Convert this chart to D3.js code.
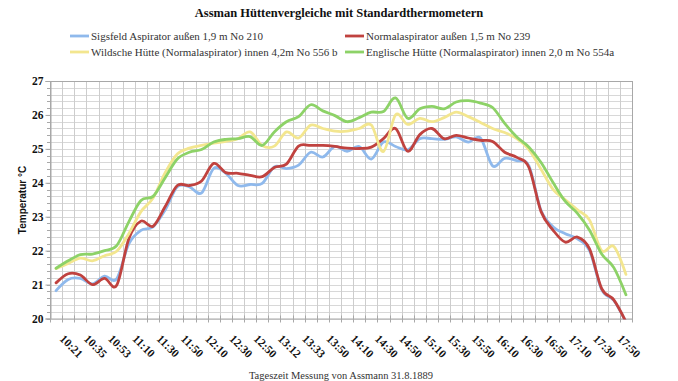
<!DOCTYPE html>
<html><head><meta charset="utf-8">
<script src="https://cdn.jsdelivr.net/npm/d3@7"></script>
<style>
html,body{margin:0;padding:0;background:#fff;}
svg{display:block;}
</style></head>
<body><svg id="chart" width="678" height="381"></svg>
<script>
const title = "Assman Hüttenvergleiche mit Standardthermometern";
const xTitle = "Tageszeit Messung von Assmann 31.8.1889";
const yTitle = "Temperatur °C";
// labelled times (every second measurement)
const timeLabels = ["10:21","10:35","10:53","11:10","11:30","11:50","12:10","12:30","12:50","13:12","13:33","13:50","14:10","14:30","14:50","15:10","15:30","15:50","16:10","16:30","16:50","17:10","17:30","17:50"];
const seriesNames = ["Sigsfeld Aspirator außen 1,9 m No 210","Normalaspirator außen 1,5 m No 239","Wildsche Hütte (Normalaspirator) innen 4,2m No 556 b","Englische Hütte (Normalaspirator) innen 2,0 m No 554a"];
const sigsfeld = [20.82,21.15,21.18,21.02,21.25,21.17,22.2,22.6,22.7,23.2,23.88,23.88,23.7,24.42,24.28,23.92,23.95,23.98,24.47,24.42,24.52,24.9,24.76,25.07,24.93,25.07,24.7,25.2,25.07,24.97,25.3,25.3,25.28,25.35,25.2,25.32,24.5,24.72,24.65,24.5,23.18,22.7,22.5,22.35,22.0,20.85,20.53,19.9];
const normal = [21.05,21.32,21.28,21.0,21.18,20.98,22.35,22.87,22.72,23.3,23.92,23.92,24.05,24.57,24.3,24.28,24.22,24.18,24.45,24.55,25.08,25.1,25.1,25.07,25.02,25.01,25.05,25.3,25.6,24.93,25.42,25.6,25.3,25.4,25.32,25.25,25.22,24.9,24.75,24.45,23.15,22.6,22.25,22.4,22.05,20.88,20.55,19.9];
const wildsche = [21.47,21.62,21.78,21.7,21.85,21.98,22.5,23.15,23.55,24.3,24.85,25.02,25.1,25.17,25.22,25.3,25.5,25.1,25.08,25.5,25.32,25.7,25.6,25.52,25.52,25.6,25.7,24.92,26.0,25.72,25.9,25.8,25.92,26.08,25.95,25.78,25.6,25.48,25.3,24.98,24.4,23.8,23.5,23.2,22.9,22.0,22.12,21.3];
const englische = [21.48,21.7,21.88,21.9,22.0,22.15,22.85,23.48,23.6,24.15,24.7,24.9,24.98,25.2,25.28,25.3,25.36,25.1,25.5,25.8,25.95,26.3,26.12,25.98,25.8,25.92,26.08,26.1,26.5,25.9,26.18,26.25,26.18,26.38,26.42,26.35,26.22,25.75,25.35,25.05,24.6,24.0,23.45,23.1,22.6,21.9,21.5,20.7];
const yTicks = [20,21,22,23,24,25,26,27];
const colors = ["#8fb9ec","#c0423f","#f3e68f","#8dd267"];

const seriesValues = [sigsfeld, normal, wildsche, englische];
const nPts = sigsfeld.length;
const cats = d3.range(nPts);
const labelOf = i => (i % 2 === 0 ? timeLabels[i/2] : null);

const svg = d3.select("#chart");
const m = {l:50, r:632, t:81, b:318.5};

const x = d3.scaleBand().domain(cats).range([m.l, m.r]).padding(0);
const y = d3.scaleLinear().domain([20,27]).range([m.b, m.t]);
const serif = "'Liberation Serif','Times New Roman',serif";
const sans = "'Liberation Sans',Arial,sans-serif";

// grid
const grid = svg.append("g");
const minor = d3.range(20, 27.001, 0.2);
grid.selectAll("line.h").data(minor).join("line")
  .attr("x1", m.l).attr("x2", m.r)
  .attr("y1", d => Math.round(y(d))+0.5).attr("y2", d => Math.round(y(d))+0.5)
  .attr("stroke", "#d8d8d8").attr("stroke-width", 1);
grid.selectAll("line.v").data(cats.concat([nPts])).join("line")
  .attr("x1", d => Math.round(d < nPts ? x(d) : m.r)+0.5)
  .attr("x2", d => Math.round(d < nPts ? x(d) : m.r)+0.5)
  .attr("y1", m.t).attr("y2", m.b)
  .attr("stroke", "#cdcdcd").attr("stroke-width", 1);
svg.append("rect").attr("x", m.l+0.5).attr("y", Math.round(m.t)+0.5)
  .attr("width", m.r-m.l).attr("height", m.b-m.t)
  .attr("fill","none").attr("stroke","#a8a8a8");

// y axis ticks
const yAxis = d3.axisLeft(y).tickValues(yTicks).tickSize(5).tickFormat(d3.format("d"));
const ya = svg.append("g").attr("transform", `translate(${m.l+0.5},0)`).call(yAxis);
ya.select(".domain").attr("stroke","#a8a8a8");
ya.selectAll(".tick line").attr("stroke","#a8a8a8");
ya.selectAll(".tick text").attr("font-family", serif).attr("font-weight","bold")
  .attr("font-size", "11.5px").attr("fill","#111").attr("x",-7);
svg.append("g").selectAll("line").data(minor).join("line")
  .attr("x1", m.l-3).attr("x2", m.l)
  .attr("y1", d => Math.round(y(d))+0.5).attr("y2", d => Math.round(y(d))+0.5)
  .attr("stroke","#a8a8a8");

// x axis ticks (category boundaries)
svg.append("g").selectAll("line").data(cats.concat([nPts])).join("line")
  .attr("x1", d => Math.round(d < nPts ? x(d) : m.r)+0.5)
  .attr("x2", d => Math.round(d < nPts ? x(d) : m.r)+0.5)
  .attr("y1", m.b-3).attr("y2", m.b+4)
  .attr("stroke","#a8a8a8");

// x labels
svg.append("g").selectAll("text").data(cats.filter(i => labelOf(i) !== null)).join("text")
  .attr("transform", i => `translate(${x(i)+x.bandwidth()/2+3},${m.b+21}) rotate(45)`)
  .attr("font-family", serif).attr("font-weight","bold").attr("font-size","11.5px")
  .attr("fill","#111").text(i => labelOf(i));

// lines
svg.append("clipPath").attr("id","clip").append("rect")
  .attr("x", m.l).attr("y", m.t).attr("width", m.r-m.l).attr("height", m.b-m.t+1);
const line = d3.line().x((d,i) => x(i)+x.bandwidth()/2).y(d => y(d)).curve(d3.curveCatmullRom.alpha(0));
svg.append("g").attr("clip-path","url(#clip)").selectAll("path").data(seriesValues).join("path")
  .attr("d", d => line(d)).attr("fill","none")
  .attr("stroke", (d,i) => colors[i]).attr("stroke-width", 2.8)
  .attr("stroke-linejoin","round").attr("stroke-linecap","round");

// title
svg.append("text").attr("x", 339).attr("y", 17).attr("text-anchor","middle")
  .attr("font-family", serif).attr("font-weight","bold").attr("font-size","12.5px")
  .attr("fill","#111").text(title);

// legend
const legPos = [[70,36],[345,36],[70,52],[345,52]];
const leg = svg.append("g").selectAll("g").data(seriesNames).join("g")
  .attr("transform", (d,i) => `translate(${legPos[i][0]},${legPos[i][1]})`);
leg.append("line").attr("x1",0).attr("x2",19).attr("y1",0).attr("y2",0)
  .attr("stroke",(d,i)=>colors[i]).attr("stroke-width",2.8);
leg.append("text").attr("x",21).attr("y",4).attr("font-family", serif)
  .attr("font-size","11px").attr("fill","#333").text(d => d);

// axis titles
svg.append("text").attr("transform","translate(26,200) rotate(-90)").attr("text-anchor","middle")
  .attr("font-family", sans).attr("font-weight","bold").attr("font-size","10px")
  .attr("fill","#111").text(yTitle);
svg.append("text").attr("x", 341).attr("y", 379).attr("text-anchor","middle")
  .attr("font-family", serif).attr("font-size","10.5px").attr("fill","#333").text(xTitle);
</script></body></html>
